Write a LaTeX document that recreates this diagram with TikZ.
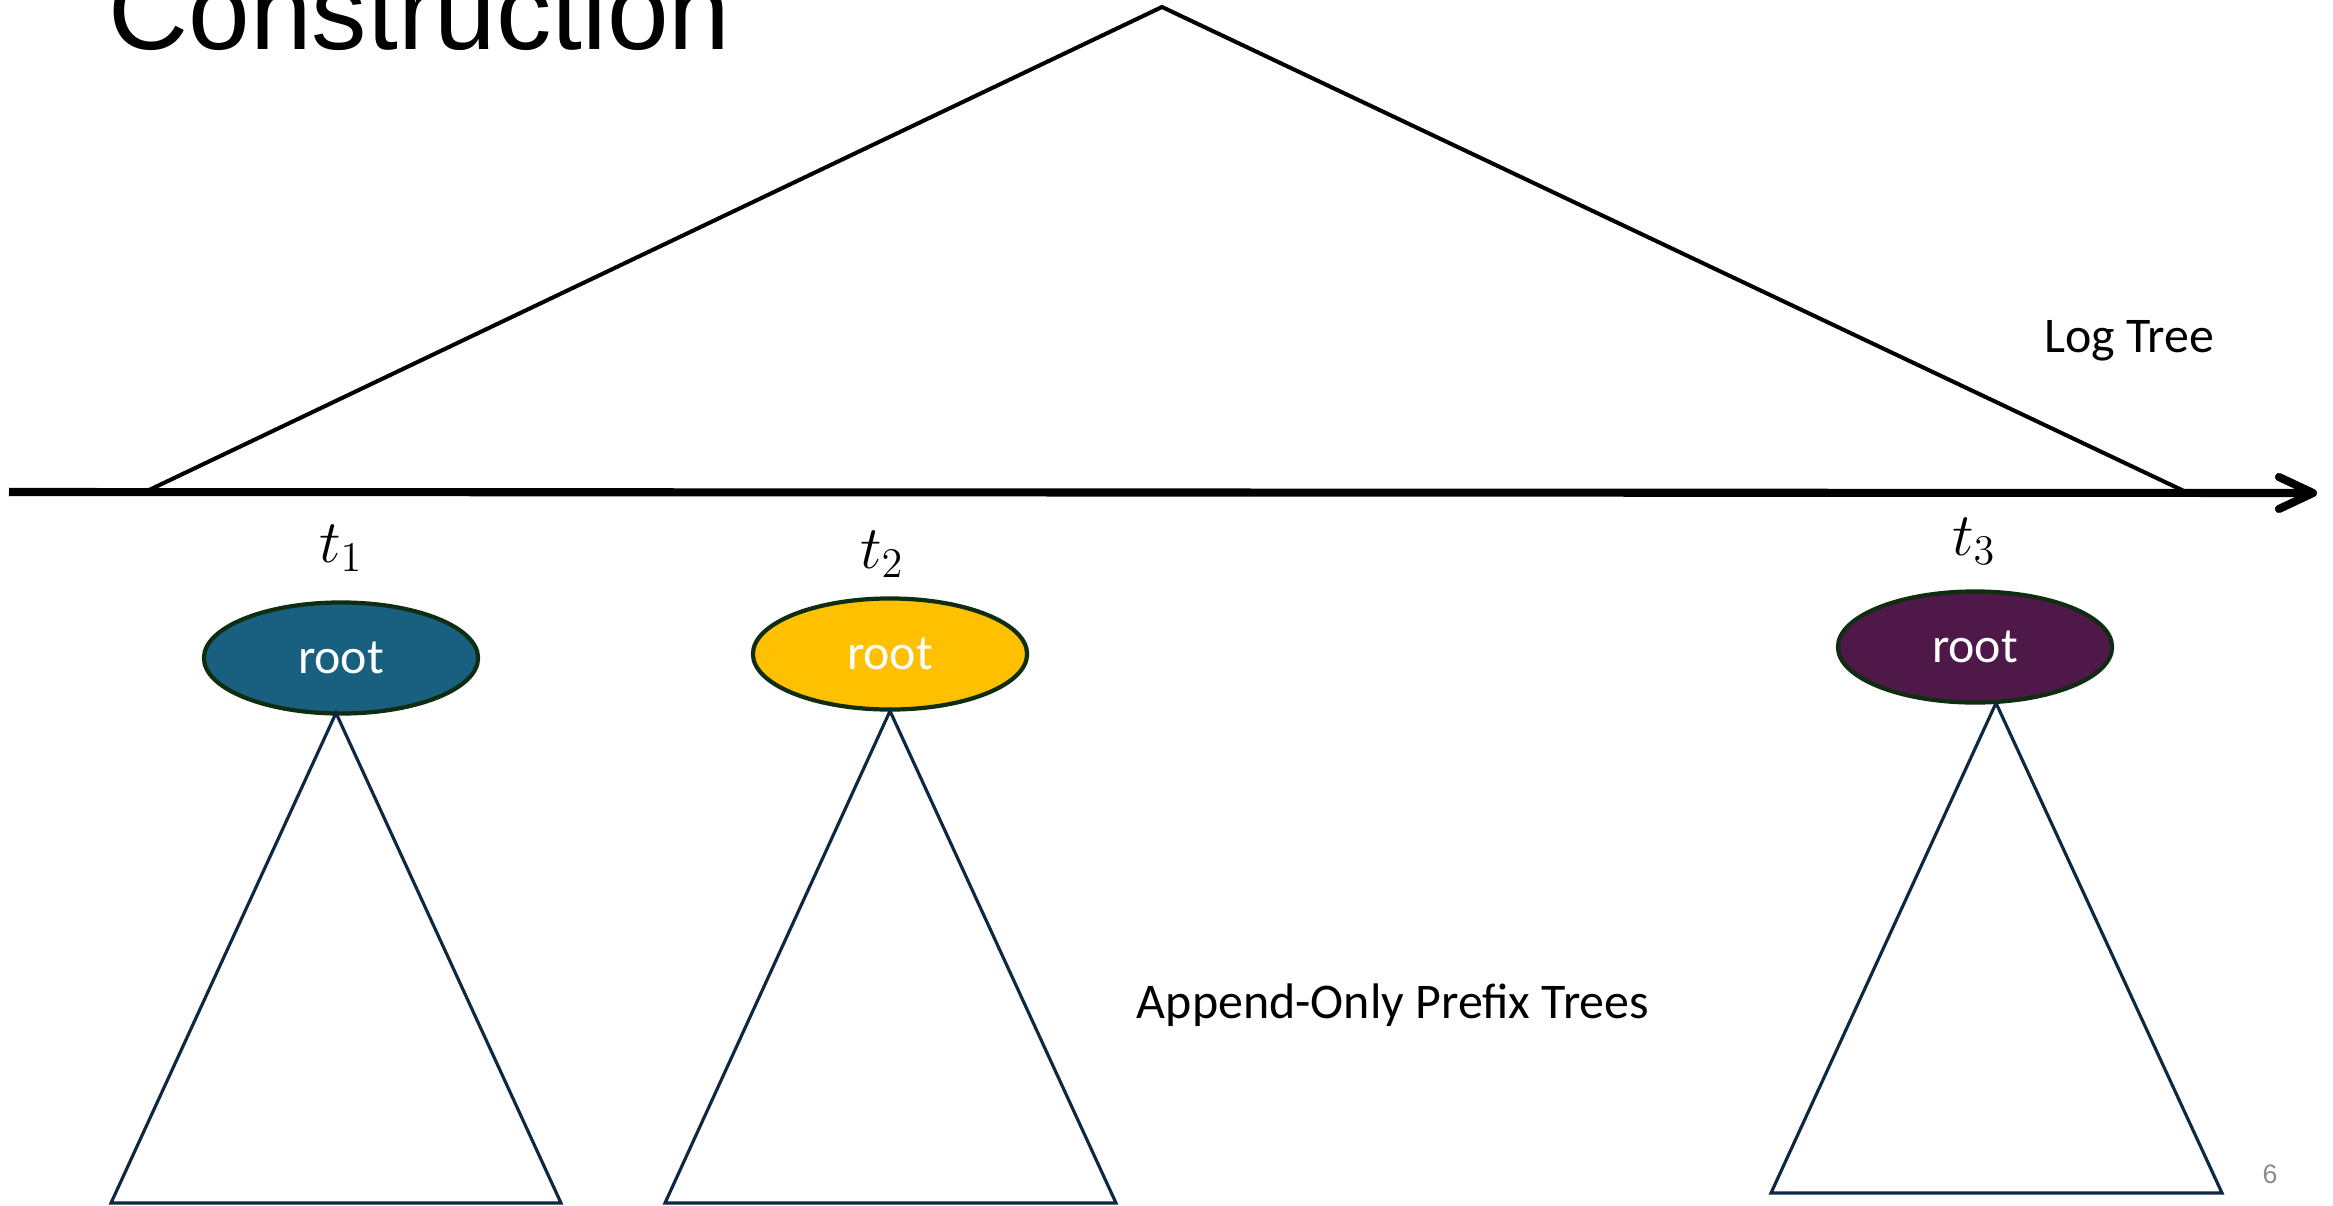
\documentclass[tikz,border=0pt]{standalone}
\usepackage{fontspec}
\setmainfont{Carlito}
\newfontfamily\titlefont{Liberation Sans}
\usetikzlibrary{arrows.meta,shapes.geometric}
\definecolor{tealroot}{HTML}{196080}
\definecolor{yellowroot}{HTML}{FFC000}
\definecolor{purpleroot}{HTML}{4E1848}
\definecolor{rootborder}{HTML}{0F2D10}
\definecolor{subtree}{HTML}{0E2841}
\definecolor{pagenum}{HTML}{8C8C8C}
\begin{document}
\begin{tikzpicture}[x=0.01cm,y=-0.01cm,
  rootnode/.style={ellipse,draw=rootborder,line width=1.2pt,minimum width=2.74cm,minimum height=1.11cm,inner sep=0pt,text=white,font=\fontsize{14.2}{17}\selectfont},
  subtri/.style={draw=subtree,line width=0.9pt,line join=miter},
  logtri/.style={draw=black,line width=1.15pt,line join=miter},
  axisline/.style={draw=black,line width=2.3pt,-{Straight Barb[length=0.34cm,width=0.32cm,line cap=round,line join=round]}},
  tlabel/.style={anchor=base,inner sep=0pt,font=\fontsize{18}{21}\selectfont},
  plainlabel/.style={anchor=base,inner sep=0pt,font=\fontsize{14.2}{17}\selectfont}]
\useasboundingbox (0,0) rectangle (2333,1206);
% title
\node[anchor=base west,inner sep=0pt,font=\titlefont\fontsize{31.5}{36}\selectfont] (title) at (108,50) {Construction};
% log tree
\coordinate (lapex) at (1162,7);
\coordinate (lleft) at (147,491);
\coordinate (lright) at (2184,491);
\draw[logtri] (lleft) -- (lapex) -- (lright);
\coordinate (axstart) at (9,492);
\coordinate (axend) at (2317,493);
\draw[axisline] (axstart) -- (axend);
\node[plainlabel] (logtree) at (2129,352) {Log Tree};
% time labels
\node[tlabel] (t1) at (341,562) {$t_1$};
\node[tlabel] (t2) at (882,568) {$t_2$};
\node[tlabel] (t3) at (1974,555) {$t_3$};
% roots
\node[rootnode,fill=tealroot] (r1) at (341,658) {root};
\node[rootnode,fill=yellowroot] (r2) at (890,654) {root};
\node[rootnode,fill=purpleroot] (r3) at (1975,647) {root};
% subtrees
\coordinate (a1) at (336,713);
\coordinate (b1l) at (111,1203);
\coordinate (b1r) at (561,1203);
\draw[subtri] (a1) -- (b1l) -- (b1r) -- cycle;
\coordinate (a2) at (890,711);
\coordinate (b2l) at (665,1203);
\coordinate (b2r) at (1116,1203);
\draw[subtri] (a2) -- (b2l) -- (b2r) -- cycle;
\coordinate (a3) at (1996,703);
\coordinate (b3l) at (1771,1193);
\coordinate (b3r) at (2222,1193);
\draw[subtri] (a3) -- (b3l) -- (b3r) -- cycle;
\node[plainlabel] (aopt) at (1393,1018) {Append-Only Prefix Trees};
% page number
\node[anchor=center,inner sep=0pt,text=pagenum,font=\titlefont\fontsize{7.6}{9}\selectfont] (pnum) at (2270,1174) {6};
\end{tikzpicture}
\end{document}
